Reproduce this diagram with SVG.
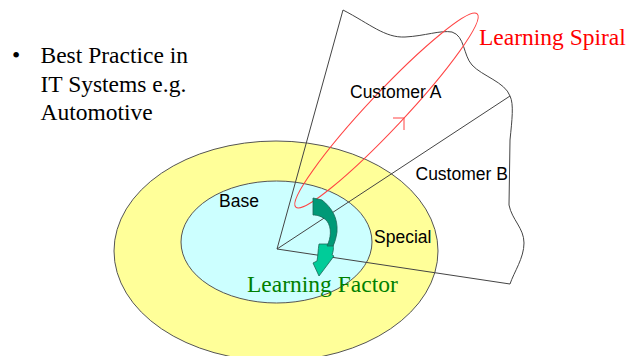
<svg xmlns="http://www.w3.org/2000/svg" width="637" height="356" viewBox="0 0 637 356">
<style>
.serif{font-family:"Liberation Serif","Times New Roman",serif;font-size:23.5px}
.sans{font-family:"Liberation Sans",Arial,sans-serif;font-size:17.5px;fill:#000}
.edge{fill:none;stroke:#444;stroke-width:1}
</style>
<rect width="637" height="356" fill="#fff"/>
<g id="special">
<ellipse cx="276" cy="251" rx="162" ry="110" fill="#ffff99" stroke="#555" stroke-width="1"/>
</g>
<g id="base">
<ellipse cx="276.5" cy="242" rx="95.5" ry="61" fill="#ccffff" stroke="#555" stroke-width="1"/>
</g>
<g id="customers">
<path class="edge" d="M343,10 C370,24 385,38 405,37 C425,36 440,30 452,32 C465,36 463,55 472,65 C482,76 505,82 510,96 C514,104 512,120 510,140 L509,205 C512,220 524,228 524,243 C524,258 514,272 510,284"/>
</g>
<g id="connectors">
<line class="edge" x1="277" y1="249" x2="343" y2="10"/>
<line class="edge" x1="277" y1="249" x2="510" y2="96"/>
<line class="edge" x1="277" y1="249" x2="510" y2="284"/>
</g>
<g id="spiral">
<ellipse cx="386.5" cy="110.5" rx="132.5" ry="18" transform="rotate(-46.8 386.5 110.5)" fill="none" stroke="#ff4444" stroke-width="1"/>
<polyline points="393,118 404,118 404,130" fill="none" stroke="#ff4444" stroke-width="1"/>
</g>
<g id="learning-factor-arrow" stroke="#1a6655" stroke-width="0.8" stroke-linejoin="round">
<path d="M319,244 L333,244 C334,249 333,252 332,255 L334,256 L319,276 L313,263 L317,261 C318,256 318,250 319,244 Z" fill="#00cc99"/>
<path d="M313,198 L322,200 C332,208 338,218 337,232 C336,238 335,242 333,246 L327,246 C331,238 332,228 327,221 C322,216 317,215 313,215 Z" fill="#009977"/>
</g>
<g id="labels">
<text class="serif" x="12" y="63">•</text>
<text class="serif" x="40.5" y="63">Best Practice in</text>
<text class="serif" x="40.5" y="92">IT Systems e.g.</text>
<text class="serif" x="40.5" y="120">Automotive</text>
<text class="serif" x="479" y="45" fill="#ff0000">Learning Spiral</text>
<text class="serif" x="247" y="292" fill="#008000">Learning Factor</text>
<text class="sans" x="350" y="98">Customer A</text>
<text class="sans" x="415.5" y="180">Customer B</text>
<text class="sans" x="219" y="207">Base</text>
<text class="sans" x="374" y="243">Special</text>
</g>
</svg>
